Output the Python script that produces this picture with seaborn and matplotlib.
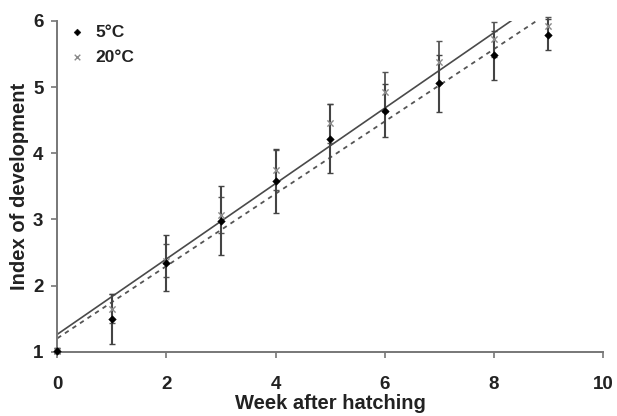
import matplotlib
matplotlib.use("Agg")
import matplotlib.pyplot as plt
import seaborn as sns
import numpy as np
import pandas as pd

weeks = [0, 1, 2, 3, 4, 5, 6, 7, 8, 9]
idx_5c = [1.02, 1.50, 2.34, 2.98, 3.58, 4.22, 4.64, 5.06, 5.48, 5.79]
err_5c = [0.04, 0.38, 0.42, 0.52, 0.48, 0.52, 0.40, 0.43, 0.37, 0.23]
idx_20c = [1.02, 1.65, 2.38, 3.07, 3.75, 4.45, 4.93, 5.38, 5.72, 5.92]
err_20c = [0.04, 0.22, 0.25, 0.27, 0.30, 0.30, 0.30, 0.32, 0.26, 0.14]
labels = ["5°C", "20°C"]

df5 = pd.DataFrame({"week": weeks, "idx": idx_5c, "err": err_5c})
df20 = pd.DataFrame({"week": weeks, "idx": idx_20c, "err": err_20c})

sns.set_style("white")
plt.rcParams["font.family"] = ["Liberation Sans", "DejaVu Sans"]

fig = plt.figure(figsize=(6.17, 4.16), dpi=100)
ax = fig.add_axes([0.093, 0.154, 0.884, 0.796])
ax.set_xlim(0, 10)
ax.set_ylim(1, 6)

line_col = "#4a4a4a"
# regression lines
sns.regplot(data=df20, x="week", y="idx", ax=ax, scatter=False, ci=None,
            truncate=False, line_kws=dict(color=line_col, lw=1.2, ls="-"))
sns.regplot(data=df5, x="week", y="idx", ax=ax, scatter=False, ci=None,
            truncate=False, line_kws=dict(color="#555555", lw=1.3, ls=(0, (2.5, 2.5))))

# error bars
ax.errorbar(df20["week"], df20["idx"], yerr=df20["err"], fmt="none",
            ecolor="#555555", elinewidth=1.3, capsize=2.5, capthick=1.0, clip_on=False, zorder=3)
ax.errorbar(df5["week"], df5["idx"], yerr=df5["err"], fmt="none",
            ecolor="#444444", elinewidth=1.5, capsize=2.5, capthick=1.0, clip_on=False, zorder=3)

sns.scatterplot(data=df20, x="week", y="idx", ax=ax, marker="x", s=20,
                color="#8a8a8a", linewidth=1.0, label=labels[1], zorder=4, clip_on=False)
sns.scatterplot(data=df5, x="week", y="idx", ax=ax, marker="D", s=15,
                color="black", edgecolor="black", label=labels[0], zorder=5, clip_on=False)

ax.set_xlim(0, 10)
ax.set_ylim(1, 6)
ax.set_xticks([0, 2, 4, 6, 8, 10])
ax.set_yticks([1, 2, 3, 4, 5, 6])

for s in ["top", "right"]:
    ax.spines[s].set_visible(False)
for s in ["left", "bottom"]:
    ax.spines[s].set_color("#777777")
    ax.spines[s].set_linewidth(1.4)

ax.tick_params(axis="both", direction="out", length=4, width=1.2, color="#777777",
               labelsize=13.5, left=True, bottom=True)
ax.tick_params(axis="x", pad=13)
ax.tick_params(axis="y", pad=6)
for t in ax.get_xticklabels() + ax.get_yticklabels():
    t.set_fontweight("bold")
    t.set_color("#222222")

ax.set_xlabel("Week after hatching", fontsize=14.5, fontweight="bold", color="#222222", labelpad=1)
ax.set_ylabel("Index of development", fontsize=14.5, fontweight="bold", color="#222222", labelpad=3)

handles, labs = ax.get_legend_handles_labels()
order = [labs.index(labels[0]), labs.index(labels[1])]
leg = ax.legend([handles[i] for i in order], [labs[i] for i in order],
                loc="upper left", bbox_to_anchor=(-0.008, 1.035), frameon=False,
                prop=dict(size=12.5, weight="bold"), handletextpad=0.55,
                labelspacing=0.55, handlelength=1.0, markerscale=0.9)
for t in leg.get_texts():
    t.set_color("#222222")

fig.savefig("out.png", dpi=100)
